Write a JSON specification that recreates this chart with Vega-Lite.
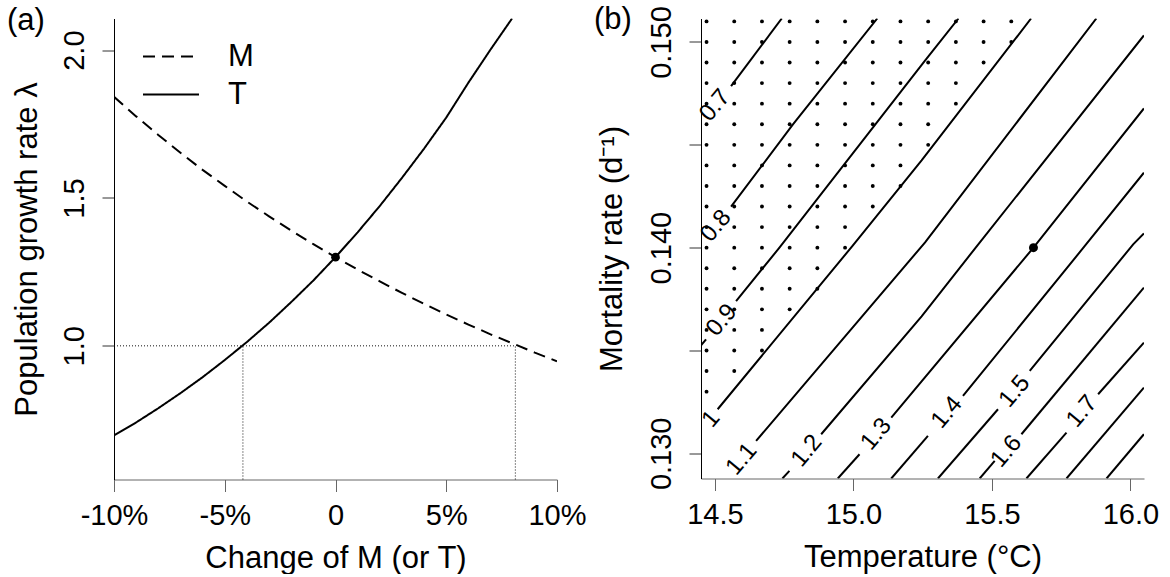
{
  "$schema": "https://vega.github.io/schema/vega-lite/v6.json",
  "background": "white",
  "padding": {"left": 7, "top": 3.5, "right": 0, "bottom": 0},
  "spacing": 144,
  "bounds": "flush",
  "config": {
    "view": {"stroke": null},
    "font": "Liberation Sans",
    "axis": {
      "grid": false, "domainColor": "black", "tickColor": "#333", "labelColor": "black", "titleColor": "black",
      "labelFont": "Liberation Sans", "titleFont": "Liberation Sans", "labelFontSize": 29, "titleFontSize": 31,
      "titleFontWeight": "normal", "tickSize": 12, "labelFlush": false, "labelOverlap": false, "domainWidth": 1, "tickWidth": 1
    },
    "axisX": {"domainColor": "#666", "tickColor": "#666"},
    "title": {"font": "Liberation Sans", "fontSize": 31, "fontWeight": "normal", "anchor": "start", "color": "black", "offset": 0}
  },
  "hconcat": [
    {
      "width": 443, "height": 461,
      "title": {"text": "(a)", "frame": "group", "dx": -107, "dy": 46, "baseline": "alphabetic"},
      "layer": [
        {
          "data": {"values": [
            {"x": -10, "x2": 8.12, "y": 1, "y2": 1},
            {"x": -4.18, "x2": -4.18, "y": 0.548, "y2": 1},
            {"x": 8.12, "x2": 8.12, "y": 0.548, "y2": 1}
          ]},
          "mark": {"type": "rule", "strokeDash": [1, 2], "color": "#111", "strokeWidth": 1},
          "encoding": {
            "x": {"field": "x", "type": "quantitative", "scale": {"domain": [-10, 10], "nice": false, "zero": false},
              "axis": {"values": [-10, -5, 0, 5, 10], "labelExpr": "datum.value == 0 ? '0' : datum.value + '%'",
                "title": "Change of M (or T)", "labelBaseline": "alphabetic", "labelPadding": 33,
                "titleBaseline": "alphabetic", "titleY": 88}},
            "x2": {"field": "x2"},
            "y": {"field": "y", "type": "quantitative", "scale": {"domain": [0.548, 2.107], "nice": false, "zero": false},
              "axis": {"values": [1, 1.5, 2], "format": ".1f", "labelAngle": -90, "labelAlign": "center",
                "labelBaseline": "alphabetic", "labelPadding": 19, "title": "Population growth rate λ",
                "titleBaseline": "alphabetic", "titleX": -78}},
            "y2": {"field": "y2"}
          }
        },
        {
          "data": {"values": [
            {"v": "M", "x": -10, "y": 1.842}, {"v": "M", "x": -9, "y": 1.776}, {"v": "M", "x": -8, "y": 1.713},
            {"v": "M", "x": -7, "y": 1.653}, {"v": "M", "x": -6, "y": 1.595}, {"v": "M", "x": -5, "y": 1.541},
            {"v": "M", "x": -4, "y": 1.488}, {"v": "M", "x": -3, "y": 1.438}, {"v": "M", "x": -2, "y": 1.390},
            {"v": "M", "x": -1, "y": 1.344}, {"v": "M", "x": 0, "y": 1.300}, {"v": "M", "x": 1, "y": 1.258},
            {"v": "M", "x": 2, "y": 1.218}, {"v": "M", "x": 3, "y": 1.179}, {"v": "M", "x": 4, "y": 1.142},
            {"v": "M", "x": 5, "y": 1.106}, {"v": "M", "x": 6, "y": 1.072}, {"v": "M", "x": 7, "y": 1.039},
            {"v": "M", "x": 8, "y": 1.008}, {"v": "M", "x": 9, "y": 0.977}, {"v": "M", "x": 10, "y": 0.948},
            {"v": "T", "x": -10, "y": 0.697}, {"v": "T", "x": -9, "y": 0.741}, {"v": "T", "x": -8, "y": 0.789},
            {"v": "T", "x": -7, "y": 0.840}, {"v": "T", "x": -6, "y": 0.894}, {"v": "T", "x": -5, "y": 0.952},
            {"v": "T", "x": -4, "y": 1.013}, {"v": "T", "x": -3, "y": 1.078}, {"v": "T", "x": -2, "y": 1.148},
            {"v": "T", "x": -1, "y": 1.221}, {"v": "T", "x": 0, "y": 1.300}, {"v": "T", "x": 1, "y": 1.384},
            {"v": "T", "x": 2, "y": 1.473}, {"v": "T", "x": 3, "y": 1.568}, {"v": "T", "x": 4, "y": 1.667},
            {"v": "T", "x": 5, "y": 1.772}, {"v": "T", "x": 6, "y": 1.890}, {"v": "T", "x": 7, "y": 2.002},
            {"v": "T", "x": 7.97, "y": 2.107}
          ]},
          "mark": {"type": "line", "color": "black", "strokeWidth": 2, "clip": true},
          "encoding": {
            "x": {"field": "x", "type": "quantitative"},
            "y": {"field": "y", "type": "quantitative"},
            "strokeDash": {"field": "v", "type": "nominal",
              "scale": {"domain": ["M", "T"], "range": [[12, 7], [1, 0]]},
              "legend": {"orient": "none", "legendX": 28, "legendY": 19, "direction": "vertical", "title": null,
                "symbolType": "stroke", "symbolSize": 3136, "symbolStrokeWidth": 2, "symbolStrokeColor": "black",
                "labelFontSize": 31, "labelFont": "Liberation Sans", "labelColor": "black", "labelOffset": 28,
                "clipHeight": 38, "rowPadding": 0, "padding": 0, "symbolOffset": 0, "labelBaseline": "middle"}}
          }
        },
        {
          "data": {"values": [{"x": 0, "y": 1.3}]},
          "mark": {"type": "circle", "color": "black", "size": 75, "opacity": 1},
          "encoding": {
            "x": {"field": "x", "type": "quantitative"},
            "y": {"field": "y", "type": "quantitative"}
          }
        }
      ]
    },
    {
      "width": 443, "height": 460,
      "title": {"text": "(b)", "frame": "group", "dx": -107, "dy": 58.5, "baseline": "alphabetic"},
      "layer": [
        {
          "data": {"values": [
            {"M": 0.151, "T": [14.47, 14.57, 14.67, 14.77, 14.87, 14.97, 15.07, 15.17, 15.27, 15.37, 15.47, 15.57]},
            {"M": 0.150, "T": [14.47, 14.57, 14.67, 14.77, 14.87, 14.97, 15.07, 15.17, 15.27, 15.37, 15.47, 15.57]},
            {"M": 0.149, "T": [14.47, 14.57, 14.67, 14.77, 14.87, 14.97, 15.07, 15.17, 15.27, 15.37, 15.47]},
            {"M": 0.148, "T": [14.47, 14.57, 14.67, 14.77, 14.87, 14.97, 15.07, 15.17, 15.27, 15.37]},
            {"M": 0.147, "T": [14.47, 14.57, 14.67, 14.77, 14.87, 14.97, 15.07, 15.17, 15.27, 15.37]},
            {"M": 0.146, "T": [14.47, 14.57, 14.67, 14.77, 14.87, 14.97, 15.07, 15.17, 15.27]},
            {"M": 0.145, "T": [14.47, 14.57, 14.67, 14.77, 14.87, 14.97, 15.07, 15.17, 15.27]},
            {"M": 0.144, "T": [14.47, 14.57, 14.67, 14.77, 14.87, 14.97, 15.07, 15.17]},
            {"M": 0.143, "T": [14.47, 14.57, 14.67, 14.77, 14.87, 14.97, 15.07, 15.17]},
            {"M": 0.142, "T": [14.47, 14.57, 14.67, 14.77, 14.87, 14.97, 15.07]},
            {"M": 0.141, "T": [14.47, 14.57, 14.67, 14.77, 14.87, 14.97]},
            {"M": 0.140, "T": [14.47, 14.57, 14.67, 14.77, 14.87, 14.97]},
            {"M": 0.139, "T": [14.47, 14.57, 14.67, 14.77, 14.87]},
            {"M": 0.138, "T": [14.47, 14.57, 14.67, 14.77, 14.87]},
            {"M": 0.137, "T": [14.47, 14.57, 14.67, 14.77]},
            {"M": 0.136, "T": [14.47, 14.57, 14.67]},
            {"M": 0.135, "T": [14.47, 14.57, 14.67]},
            {"M": 0.134, "T": [14.47, 14.57]},
            {"M": 0.133, "T": [14.47]}
          ]},
          "transform": [{"flatten": ["T"]}],
          "mark": {"type": "circle", "color": "black", "size": 15, "opacity": 1},
          "encoding": {
            "x": {"field": "T", "type": "quantitative", "scale": {"domain": [14.450, 16.049], "nice": false, "zero": false},
              "axis": {"values": [14.5, 15, 15.5, 16], "format": ".1f", "title": "Temperature (°C)",
                "labelBaseline": "alphabetic", "labelPadding": 33, "titleBaseline": "alphabetic", "titleY": 88}},
            "y": {"field": "M", "type": "quantitative", "scale": {"domain": [0.128776, 0.151142], "nice": false, "zero": false},
              "axis": {"values": [0.13, 0.135, 0.14, 0.145, 0.15],
                "labelExpr": "round(datum.value * 1000) % 10 == 0 ? format(datum.value, '.3f') : ''",
                "labelAngle": -90, "labelAlign": "center", "labelBaseline": "alphabetic", "labelPadding": 19,
                "title": "Mortality rate (d⁻¹)", "titleBaseline": "alphabetic", "titleX": -80}}
          }
        },
        {
          "data": {"values": [
            {"s": "0.7a", "o": 1, "T": 14.5585, "M": 0.147852}, {"s": "0.7a", "o": 2, "T": 14.7414, "M": 0.151142},
            {"s": "0.8a", "o": 1, "T": 14.5585, "M": 0.141992}, {"s": "0.8a", "o": 2, "T": 14.7819, "M": 0.145991}, {"s": "0.8a", "o": 3, "T": 15.0862, "M": 0.151142},
            {"s": "0.9a", "o": 1, "T": 14.4501, "M": 0.135253}, {"s": "0.9a", "o": 2, "T": 14.4682, "M": 0.135544},
            {"s": "0.9b", "o": 1, "T": 14.5766, "M": 0.137405}, {"s": "0.9b", "o": 2, "T": 14.7331, "M": 0.140}, {"s": "0.9b", "o": 3, "T": 15.2571, "M": 0.149067}, {"s": "0.9b", "o": 4, "T": 15.3793, "M": 0.151142},
            {"s": "1.0a", "o": 1, "T": 14.5101, "M": 0.132143}, {"s": "1.0a", "o": 2, "T": 14.9969, "M": 0.140087}, {"s": "1.0a", "o": 3, "T": 15.2463, "M": 0.144242}, {"s": "1.0a", "o": 4, "T": 15.6413, "M": 0.151142},
            {"s": "1.1a", "o": 1, "T": 14.6489, "M": 0.130603}, {"s": "1.1a", "o": 2, "T": 15.2589, "M": 0.140258}, {"s": "1.1a", "o": 3, "T": 15.8769, "M": 0.151142},
            {"s": "1.2a", "o": 1, "T": 14.7439, "M": 0.128776}, {"s": "1.2a", "o": 2, "T": 14.7692, "M": 0.129145},
            {"s": "1.2b", "o": 1, "T": 14.8838, "M": 0.130928}, {"s": "1.2b", "o": 2, "T": 15.2463, "M": 0.136662}, {"s": "1.2b", "o": 3, "T": 15.4451, "M": 0.140063}, {"s": "1.2b", "o": 4, "T": 16.0486, "M": 0.150316},
            {"s": "1.3a", "o": 1, "T": 14.9438, "M": 0.128776}, {"s": "1.3a", "o": 2, "T": 15.0222, "M": 0.129956},
            {"s": "1.3b", "o": 1, "T": 15.1368, "M": 0.131740}, {"s": "1.3b", "o": 2, "T": 15.65, "M": 0.140}, {"s": "1.3b", "o": 3, "T": 16.0486, "M": 0.146769},
            {"s": "1.4a", "o": 1, "T": 15.1368, "M": 0.128776}, {"s": "1.4a", "o": 2, "T": 15.2691, "M": 0.130845},
            {"s": "1.4b", "o": 1, "T": 15.3956, "M": 0.132789}, {"s": "1.4b", "o": 2, "T": 15.8354, "M": 0.140083}, {"s": "1.4b", "o": 3, "T": 16.0486, "M": 0.143644},
            {"s": "1.5a", "o": 1, "T": 15.3052, "M": 0.128776}, {"s": "1.5a", "o": 2, "T": 15.5220, "M": 0.132143},
            {"s": "1.5b", "o": 1, "T": 15.6366, "M": 0.134004}, {"s": "1.5b", "o": 2, "T": 16.0099, "M": 0.140160}, {"s": "1.5b", "o": 3, "T": 16.0486, "M": 0.140695},
            {"s": "1.6a", "o": 1, "T": 15.4559, "M": 0.128776}, {"s": "1.6a", "o": 2, "T": 15.5101, "M": 0.129631},
            {"s": "1.6b", "o": 1, "T": 15.6066, "M": 0.130928}, {"s": "1.6b", "o": 2, "T": 16.0486, "M": 0.138056},
            {"s": "1.7a", "o": 1, "T": 15.6247, "M": 0.128776}, {"s": "1.7a", "o": 2, "T": 15.7692, "M": 0.131011},
            {"s": "1.7b", "o": 1, "T": 15.8834, "M": 0.132872}, {"s": "1.7b", "o": 2, "T": 16.0486, "M": 0.135384},
            {"s": "1.8a", "o": 1, "T": 15.7692, "M": 0.128776}, {"s": "1.8a", "o": 2, "T": 16.0486, "M": 0.133197},
            {"s": "1.9a", "o": 1, "T": 15.9138, "M": 0.128776}, {"s": "1.9a", "o": 2, "T": 16.0486, "M": 0.130928}
          ]},
          "mark": {"type": "line", "color": "black", "strokeWidth": 2, "clip": true},
          "encoding": {
            "x": {"field": "T", "type": "quantitative"},
            "y": {"field": "M", "type": "quantitative"},
            "detail": {"field": "s", "type": "nominal"},
            "order": {"field": "o", "type": "quantitative"}
          }
        },
        {
          "data": {"values": [
            {"lab": "0.7", "T": 14.5007, "M": 0.146914},
            {"lab": "0.8", "T": 14.5043, "M": 0.141050},
            {"lab": "0.9", "T": 14.5253, "M": 0.136467},
            {"lab": "1", "T": 14.4863, "M": 0.131657},
            {"lab": "1.1", "T": 14.5969, "M": 0.129713},
            {"lab": "1.2", "T": 14.8318, "M": 0.130117},
            {"lab": "1.3", "T": 15.0826, "M": 0.130928},
            {"lab": "1.4", "T": 15.3377, "M": 0.131983},
            {"lab": "1.5", "T": 15.5824, "M": 0.133003},
            {"lab": "1.6", "T": 15.5524, "M": 0.130087},
            {"lab": "1.7", "T": 15.8256, "M": 0.132031}
          ]},
          "mark": {"type": "text", "angle": -50, "fontSize": 24, "font": "Liberation Sans", "align": "center", "baseline": "middle", "color": "black"},
          "encoding": {
            "x": {"field": "T", "type": "quantitative"},
            "y": {"field": "M", "type": "quantitative"},
            "text": {"field": "lab", "type": "nominal"}
          }
        },
        {
          "data": {"values": [{"T": 15.65, "M": 0.14}]},
          "mark": {"type": "circle", "color": "black", "size": 80, "opacity": 1},
          "encoding": {
            "x": {"field": "T", "type": "quantitative"},
            "y": {"field": "M", "type": "quantitative"}
          }
        }
      ]
    }
  ]
}
